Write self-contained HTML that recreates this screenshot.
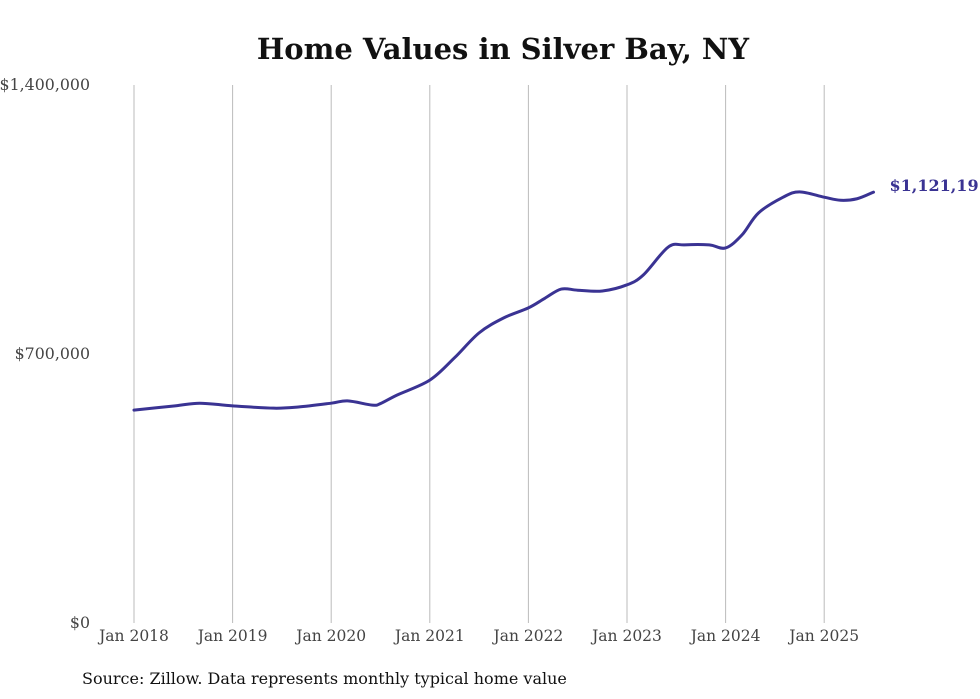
<!DOCTYPE html>
<html><head><meta charset="utf-8"><style>
body{margin:0;background:#fff;}
svg{display:block;font-family:"DejaVu Serif","Liberation Serif",serif;}
</style></head><body>
<svg id="chart" width="980" height="699">
<text x="503" y="59" text-anchor="middle" font-size="29" font-weight="bold" fill="#111">Home Values in Silver Bay, NY</text>
<g id="grid"></g><g id="yaxis"></g><g id="xaxis"></g><g id="series"></g>
<text x="82" y="684" font-size="16" fill="#111">Source: Zillow. Data represents monthly typical home value</text>
</svg>
<script>
const monthIdx=[0,5,8,12,17,20,24,26,29,30,32,36,39,42,45,48,50,52,54,57,60,62,65,67,70,72,74,76,79,81,84,86,88,90];
const values=[554000,565000,572000,565000,559000,562000,572000,578000,567000,571000,593000,632000,690000,755000,794000,820000,845000,869000,866000,864000,880000,906000,978000,984000,984000,976000,1010000,1067000,1108000,1122000,1108000,1100000,1104000,1121190];
const yTicks=[0,700000,1400000];
const yTickLabels=["$0","$700,000","$1,400,000"];
const xYears=[2018,2019,2020,2021,2022,2023,2024,2025];
const lastLabel="$1,121,19";
const NS="http://www.w3.org/2000/svg";
const x0=134,pxPerYear=98.6,yBase=623,yTop=85,yMax=1400000;
const xs=m=>x0+m*pxPerYear/12;
const ys=v=>yBase-v/yMax*(yBase-yTop);
function mk(t,a,p){const e=document.createElementNS(NS,t);for(const k in a)e.setAttribute(k,a[k]);p.appendChild(e);return e;}
const grid=document.getElementById('grid'),xa=document.getElementById('xaxis'),ya=document.getElementById('yaxis'),se=document.getElementById('series');
xYears.forEach((yr,i)=>{const x=xs(i*12);
const l=mk('line',{x1:x,x2:x,y1:yTop,y2:yBase,stroke:'#bbb','stroke-width':1},grid);


const t=mk('text',{x:x,y:641,'text-anchor':'middle','font-size':15.5,fill:'#444'},xa);t.textContent='Jan '+yr;

});
yTicks.forEach((v,i)=>{const t=mk('text',{x:90,y:ys(v)+5,'text-anchor':'end','font-size':15.8,fill:'#444'},ya);t.textContent=yTickLabels[i];

});
const P=monthIdx.map((m,i)=>[xs(m),ys(values[i])]);
let d='M'+P[0][0]+','+P[0][1];
for(let i=0;i<P.length-1;i++){const p0=P[Math.max(0,i-1)],p1=P[i],p2=P[i+1],p3=P[Math.min(P.length-1,i+2)];
d+=' C'+(p1[0]+(p2[0]-p0[0])/6)+','+(p1[1]+(p2[1]-p0[1])/6)+' '+(p2[0]-(p3[0]-p1[0])/6)+','+(p2[1]-(p3[1]-p1[1])/6)+' '+p2[0]+','+p2[1];}
const path=mk('path',{d:d,fill:'none',stroke:'#3a3393','stroke-width':3,'stroke-linejoin':'round','stroke-linecap':'round'},se);


const last=P[P.length-1];
const lt=mk('text',{x:last[0]+16,y:last[1]-1,'font-size':16,'font-weight':'bold',fill:'#3a3393'},se);lt.textContent=lastLabel;


</script>
</body></html>
